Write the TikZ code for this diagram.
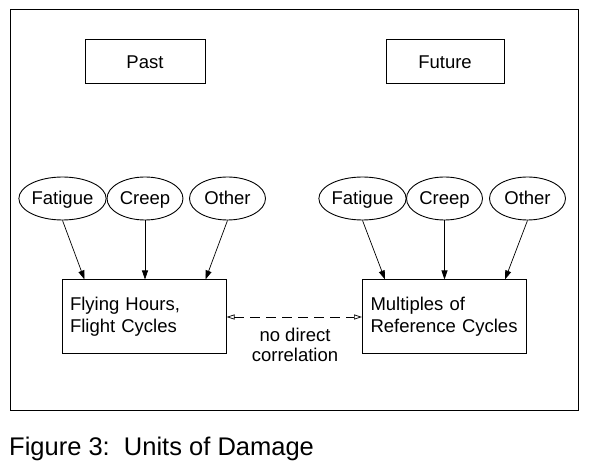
\documentclass[tikz,border=0pt]{standalone}
\usepackage{fontspec}
\setmainfont{Liberation Sans}
\usetikzlibrary{shapes.geometric,arrows.meta}
\tikzset{
  lbl/.style={font=\fontsize{18.5}{22}\selectfont},
  hbox/.style={draw, line width=1pt, minimum width=120pt, minimum height=44pt, inner sep=0pt, text height=16pt, text depth=3pt, lbl},
  cause/.style={draw, ellipse, line width=0.9pt, minimum width=76pt, minimum height=43pt, inner sep=0pt, text height=16pt, text depth=3pt, lbl},
  unitbox/.style={draw, line width=1pt, minimum width=164pt, minimum height=74pt, inner sep=8pt, text width=148pt, align=left, lbl},
  feed/.style={-{Triangle[length=9pt,width=6pt]}, line width=0.7pt},
  link/.style={{Triangle[open,length=8pt,width=5pt]}-{Triangle[open,length=8pt,width=5pt]}, line width=0.7pt, dash pattern=on 10pt off 6pt}
}
\begin{document}
\begin{tikzpicture}[x=1pt,y=-1pt]
\useasboundingbox (0,0) rectangle (590,470);
\draw[line width=1pt] (10,10) rectangle (578,411);
\node[hbox] (past) at (145,62) {Past};
\node[hbox, minimum width=118pt] (future) at (445,62) {Future};
\node[cause] (fl) at (62.5,198.5) {Fatigue};
\node[cause] (cl) at (145,198.5) {Creep};
\node[cause] (ol) at (227.5,198.5) {Other};
\node[cause] (fr) at (362.5,198.5) {Fatigue};
\node[cause] (cr) at (444.5,198.5) {Creep};
\node[cause] (or) at (527.5,198.5) {Other};
\node[unitbox] (bl) at (144,317) {Flying Hours,\\Flight Cycles};
\node[unitbox] (br) at (444.5,317) {Multiples of\\Reference Cycles};
\draw[feed] (fl.south) -- ([xshift=23pt]bl.north west);
\draw[feed] (cl.south) -- ([xshift=1pt]bl.north);
\draw[feed] (ol.south) -- ([xshift=-21pt]bl.north east);
\draw[feed] (fr.south) -- ([xshift=23pt]br.north west);
\draw[feed] (cr.south) -- (br.north);
\draw[feed] (or.south) -- ([xshift=-22pt]br.north east);
\draw[link] (bl.east) -- (br.west);
\node[align=center, anchor=base, inner sep=0pt, font=\fontsize{18.5}{20}\selectfont] (nd) at (295,362) {no direct\\correlation};
\node[anchor=base west, inner sep=0pt, font=\fontsize{25.5}{28}\selectfont] (cap) at (9,456) {Figure 3:\ \ Units of Damage};
\end{tikzpicture}
\end{document}
